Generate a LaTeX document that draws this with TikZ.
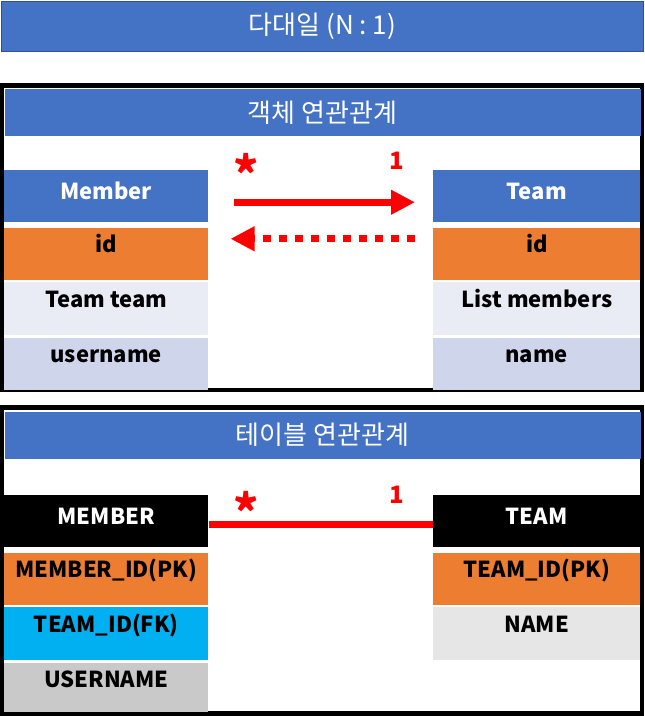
\documentclass[tikz,border=0pt]{standalone}
\usepackage{fontspec}
\setmainfont{Noto Sans CJK KR}
\usetikzlibrary{arrows.meta, positioning}

\definecolor{hdrblue}{HTML}{4472C4}
\definecolor{hdrline}{HTML}{2F528F}
\definecolor{pkorange}{HTML}{ED7D31}
\definecolor{rowlight}{HTML}{E9EBF5}
\definecolor{rowdark}{HTML}{CFD5EA}
\definecolor{fkcyan}{HTML}{00B0F0}
\definecolor{rowgray}{HTML}{C9C9C9}
\definecolor{rowpale}{HTML}{E7E6E6}

\begin{document}
\begin{tikzpicture}[
    x=0.75pt, y=-0.75pt,
    titlebar/.style={fill=hdrblue, draw=hdrline, line width=0.75pt,
                     text=white, inner sep=0pt, anchor=north west,
                     font=\fontsize{19.5}{22}\selectfont},
    cell/.style={anchor=north west, inner sep=0pt, minimum width=153pt,
                 text height=18.75pt, text depth=#1,
                 font=\bfseries\fontsize{16.5}{20}\selectfont},
    cell/.default=20.25pt,
    head/.style={cell, text height=21.75pt, text depth=17.25pt},
    wide/.style={minimum width=155.25pt},
    mult/.style={text=red, inner sep=0pt, anchor=base,
                 font=\bfseries\fontsize{18}{20}\selectfont},
    many/.style={mult, font=\bfseries\fontsize{36}{38}\selectfont},
    link/.style={red, line width=5pt},
    >={Triangle[length=18pt, width=17.5pt]}
  ]
  \useasboundingbox (0,0) rectangle (644,716);

  % Title
  \node[titlebar, minimum width=481.5pt, minimum height=37.5pt]
    (title) at (1,1) {다대일 (N : 1)};

  % Object relation
  \fill[black] (0,83) rectangle (644,392);
  \fill[white] (4,88) rectangle (640,388);
  \node[titlebar, draw=none, minimum width=477pt, minimum height=35.25pt]
    (objtitle) at (4,89) {객체 연관관계};

  \node[head, fill=hdrblue, text=white] (mhead) at (4,170) {Member};
  \node[cell, fill=pkorange, below=3.75pt of mhead] (mid) {id};
  \node[cell=21pt, fill=rowlight, below=1.5pt of mid] (mteam) {Team team};
  \node[cell, fill=rowdark, below=1.5pt of mteam] (muser) {username};

  \node[head, wide, fill=hdrblue, text=white] (thead) at (433,170) {Team};
  \node[cell, wide, fill=pkorange, below=3.75pt of thead] (tid) {id};
  \node[cell=21pt, wide, fill=rowlight, below=1.5pt of tid] (tlist) {List members};
  \node[cell, wide, fill=rowdark, below=1.5pt of tlist] (tname) {name};

  \draw[link, ->] ([xshift=18.75pt, yshift=-4.5pt]mhead.east)
    -- ([xshift=-13.5pt, yshift=-4.5pt]thead.west);
  \draw[link, ->, dash pattern=on 6pt off 6pt]
    ([xshift=-13.5pt, yshift=11.25pt]tid.west)
    -- ([xshift=16.5pt, yshift=11.25pt]mid.east);
  \node[many] (objmany) at (246,193) {*};
  \node[mult] (objone) at (397,170) {1};

  % Table relation
  \fill[black] (0,405) rectangle (644,716);
  \fill[white] (4,410) rectangle (640,711);
  \node[titlebar, draw=none, minimum width=477pt, minimum height=35.25pt]
    (tbltitle) at (4,411) {테이블 연관관계};

  \node[head, fill=black, text=white] (tmem) at (4,495) {MEMBER};
  \node[cell, fill=pkorange, below=3.75pt of tmem] (tmemid) {MEMBER\_ID(PK)};
  \node[cell=21pt, fill=fkcyan, below=1.5pt of tmemid] (tteamfk) {TEAM\_ID(FK)};
  \node[cell=18pt, fill=rowgray, below=1.5pt of tteamfk] (tuser) {USERNAME};

  \node[head, wide, fill=black, text=white] (tteam) at (433,495) {TEAM};
  \node[cell, wide, fill=pkorange, below=3.75pt of tteam] (tteamid) {TEAM\_ID(PK)};
  \node[cell=21pt, wide, fill=rowpale, below=1.5pt of tteamid] (tname) {NAME};

  \draw[link, line width=5.25pt] ([yshift=-2.25pt]tmem.east)
    -- ([yshift=-2.25pt]tteam.west);
  \node[many] (tblmany) at (246,530) {*};
  \node[mult] (tblone) at (397,503) {1};
\end{tikzpicture}
\end{document}
